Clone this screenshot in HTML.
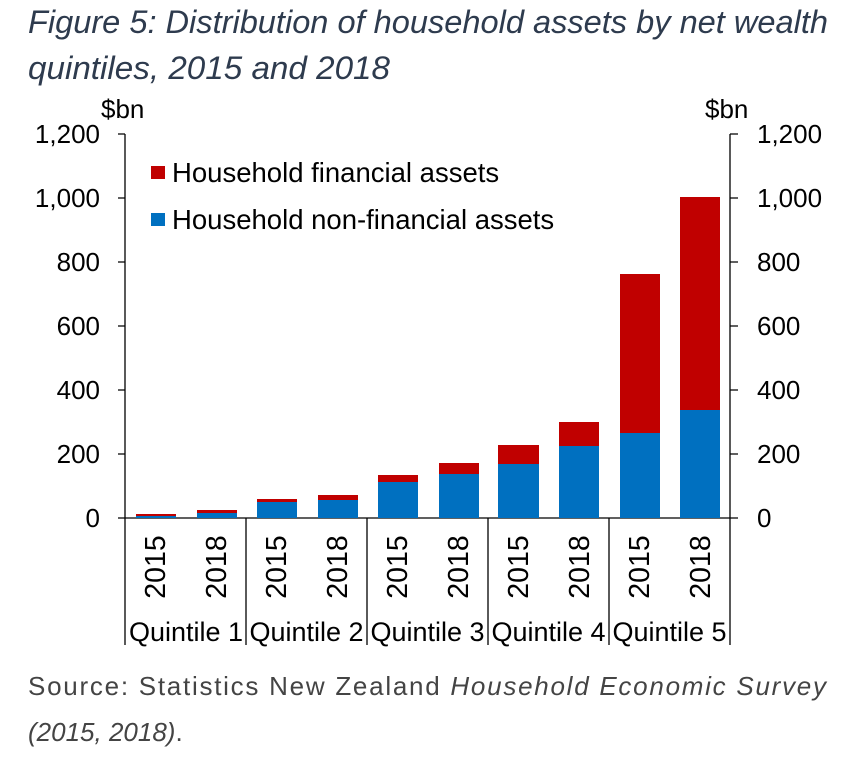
<!DOCTYPE html>
<html><head><meta charset="utf-8"><style>
body{margin:0;background:#fff;width:850px;height:759px;overflow:hidden}
svg{display:block}
</style></head><body>
<svg width="850" height="759" xmlns="http://www.w3.org/2000/svg" font-family="Liberation Sans, sans-serif">
<g font-style="italic" font-size="32" fill="#2e3b4e">
<text x="28" y="33" textLength="800" lengthAdjust="spacingAndGlyphs">Figure 5: Distribution of household assets by net wealth</text>
<text x="28" y="79" textLength="362" lengthAdjust="spacingAndGlyphs">quintiles, 2015 and 2018</text>
</g>
<g font-size="26" fill="#000">
<text x="101" y="118">$bn</text>
<text x="705" y="118">$bn</text>
<g text-anchor="end">
<text x="100" y="143">1,200</text><text x="100" y="207">1,000</text><text x="100" y="271">800</text>
<text x="100" y="335">600</text><text x="100" y="399">400</text><text x="100" y="463">200</text><text x="100" y="527">0</text>
</g>
<g>
<text x="757" y="143">1,200</text><text x="757" y="207">1,000</text><text x="757" y="271">800</text>
<text x="757" y="335">600</text><text x="757" y="399">400</text><text x="757" y="463">200</text><text x="757" y="527">0</text>
</g>
</g>
<g stroke="#000" stroke-width="1.3" fill="none">
<line x1="125" y1="134" x2="125" y2="645"/>
<line x1="730" y1="134" x2="730" y2="645"/>
<line x1="118" y1="518" x2="738" y2="518"/>
<line x1="246" y1="518" x2="246" y2="645"/>
<line x1="367" y1="518" x2="367" y2="645"/>
<line x1="488" y1="518" x2="488" y2="645"/>
<line x1="609" y1="518" x2="609" y2="645"/>
<path d="M118 134H125M118 198H125M118 262H125M118 326H125M118 390H125M118 454H125"/>
<path d="M730 134H738M730 198H738M730 262H738M730 326H738M730 390H738M730 454H738"/>
</g>
<g>
<rect x="136" y="514" width="40" height="2" fill="#c00000"/><rect x="136" y="516" width="40" height="2" fill="#0070c0"/>
<rect x="197" y="510" width="40" height="3" fill="#c00000"/><rect x="197" y="513" width="40" height="5" fill="#0070c0"/>
<rect x="257" y="499" width="40" height="3" fill="#c00000"/><rect x="257" y="502" width="40" height="16" fill="#0070c0"/>
<rect x="318" y="495" width="40" height="5" fill="#c00000"/><rect x="318" y="500" width="40" height="18" fill="#0070c0"/>
<rect x="378" y="475" width="40" height="7" fill="#c00000"/><rect x="378" y="482" width="40" height="36" fill="#0070c0"/>
<rect x="439" y="463" width="40" height="11" fill="#c00000"/><rect x="439" y="474" width="40" height="44" fill="#0070c0"/>
<rect x="498" y="445" width="41" height="19" fill="#c00000"/><rect x="498" y="464" width="41" height="54" fill="#0070c0"/>
<rect x="559" y="422" width="40" height="24" fill="#c00000"/><rect x="559" y="446" width="40" height="72" fill="#0070c0"/>
<rect x="620" y="274" width="40" height="159" fill="#c00000"/><rect x="620" y="433" width="40" height="85" fill="#0070c0"/>
<rect x="680" y="197" width="40" height="213" fill="#c00000"/><rect x="680" y="410" width="40" height="108" fill="#0070c0"/>
</g>
<rect x="151" y="166" width="14" height="13" fill="#c00000"/>
<rect x="151" y="213" width="14" height="13" fill="#0070c0"/>
<g font-size="27.5" fill="#000">
<text x="172" y="182">Household financial assets</text>
<text x="172" y="229">Household non-financial assets</text>
</g>
<g font-size="28.5" fill="#000" text-anchor="middle">
<text transform="translate(165,567) rotate(-90)">2015</text>
<text transform="translate(226,567) rotate(-90)">2018</text>
<text transform="translate(286,567) rotate(-90)">2015</text>
<text transform="translate(347,567) rotate(-90)">2018</text>
<text transform="translate(407,567) rotate(-90)">2015</text>
<text transform="translate(468,567) rotate(-90)">2018</text>
<text transform="translate(528,567) rotate(-90)">2015</text>
<text transform="translate(589,567) rotate(-90)">2018</text>
<text transform="translate(649,567) rotate(-90)">2015</text>
<text transform="translate(710,567) rotate(-90)">2018</text>
</g>
<g font-size="27" fill="#000" text-anchor="middle">
<text x="186" y="641">Quintile 1</text><text x="306.5" y="641">Quintile 2</text>
<text x="427.5" y="641">Quintile 3</text><text x="548.5" y="641">Quintile 4</text><text x="669.5" y="641">Quintile 5</text>
</g>
<g font-size="26" fill="#444">
<text x="28" y="695" textLength="798" lengthAdjust="spacing">Source: Statistics New Zealand <tspan font-style="italic">Household Economic Survey</tspan></text>
<text x="28" y="741"><tspan font-style="italic">(2015, 2018)</tspan>.</text>
</g>
</svg>
</body></html>
